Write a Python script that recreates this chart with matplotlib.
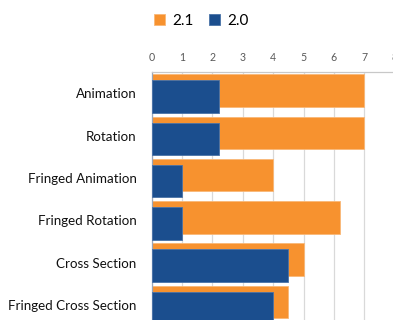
import matplotlib
matplotlib.use("Agg")
import matplotlib.pyplot as plt
import numpy as np

categories = ["Animation", "Rotation", "Fringed Animation", "Fringed Rotation",
              "Cross Section", "Fringed Cross Section"]
v21 = [7, 7, 4, 6.2, 5, 4.5]
v20 = [2.2, 2.2, 1, 1, 4.5, 4]
series_names = ["2.1", "2.0"]
x_ticks = [0, 1, 2, 3, 4, 5, 6, 7, 8]

orange = "#F7922F"
blue = "#1B4E8E"

plt.rcParams["font.family"] = ["Lato", "DejaVu Sans"]

W, H = 393, 320
fig = plt.figure(figsize=(W / 100, H / 100), dpi=100)

left_px, top_px = 151.7, 72.3
unit_px = 30.37
band_px = 42.3
ax_w = 8 * unit_px
ax_h = len(categories) * band_px
ax = fig.add_axes([left_px / W, 1 - (top_px + ax_h) / H, ax_w / W, ax_h / H])

y = np.arange(len(categories))
h = 0.766
off = 0.071
b1 = ax.barh(y - off, v21, height=h, color=orange, edgecolor="#F9B878",
             linewidth=0.6, label=series_names[0], zorder=2)
b2 = ax.barh(y + off, v20, height=h, color=blue, edgecolor="#4A73A8",
             linewidth=0.6, label=series_names[1], zorder=3)

ax.set_xlim(0, 8)
ax.set_ylim(len(categories) - 0.5, -0.5)
ax.set_yticks(y)
ax.set_yticklabels(categories, fontsize=9.6, color="#111111")
ax.set_xticks(x_ticks)
ax.set_xticklabels([str(t) for t in x_ticks], fontsize=7.6, color="#595959")
ax.xaxis.tick_top()
ax.tick_params(axis="x", length=0, pad=6.8)
ax.tick_params(axis="y", length=0, pad=11)

ax.grid(axis="x", color="#D9D9D9", linewidth=0.9, zorder=0)
ax.set_axisbelow(True)
for s in ["right", "bottom"]:
    ax.spines[s].set_visible(False)
ax.spines["top"].set_color("#C8C8C8")
ax.spines["top"].set_linewidth(0.9)
ax.spines["left"].set_color("#9AA6B8")
ax.spines["left"].set_linewidth(0.9)

fig.legend(handles=[b1, b2], labels=series_names, loc="center left",
           bbox_to_anchor=(154 / W, 1 - 21 / H), ncol=2, frameon=False,
           fontsize=11, handlelength=0.75, handleheight=0.75,
           handletextpad=0.45, columnspacing=1.0, borderaxespad=0,
           borderpad=0)

fig.savefig("out.png", dpi=100)
